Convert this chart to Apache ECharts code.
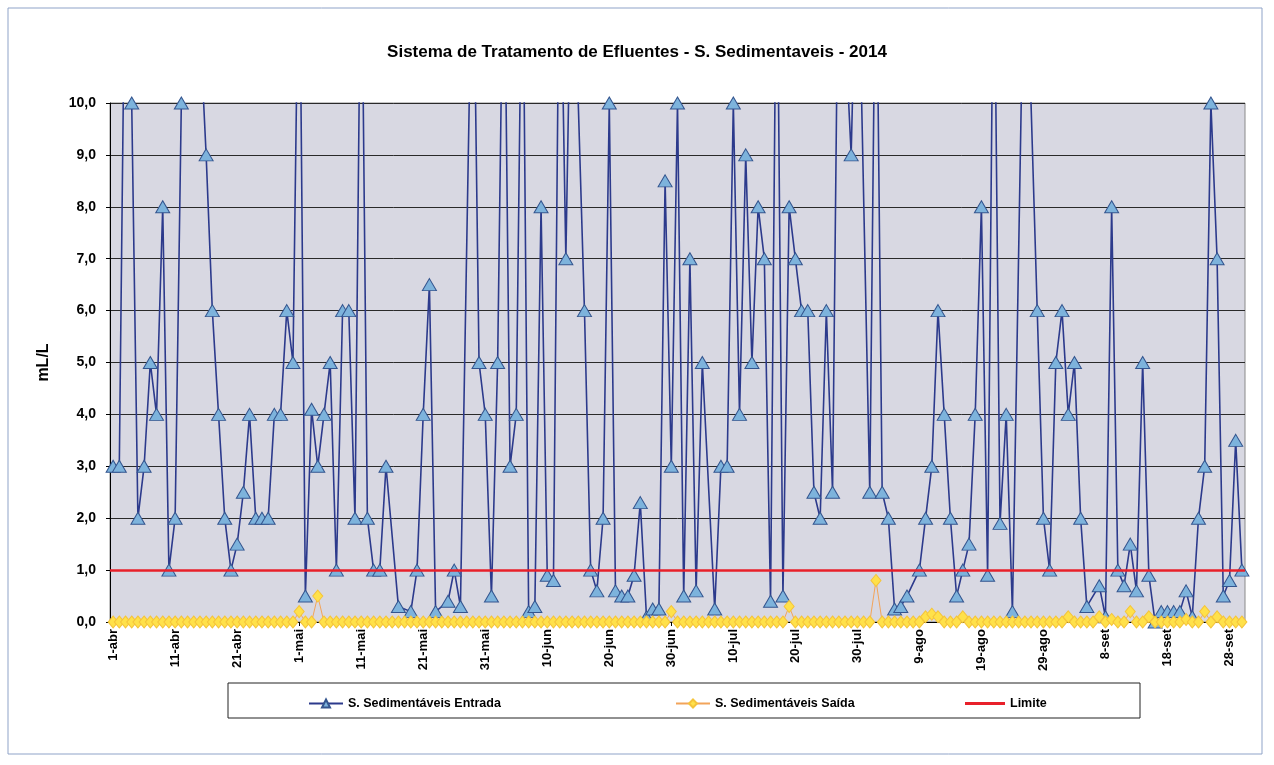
<!DOCTYPE html>
<html>
<head>
    <meta charset="utf-8" />
    <title>Sistema de Tratamento de Efluentes - S. Sedimentaveis - 2014</title>
    <script src="https://cdn.jsdelivr.net/npm/echarts@6/dist/echarts.min.js"></script>
    <style>
        html, body { margin: 0; padding: 0; background: #fff; }
        #chart { width: 1274px; height: 765px; }
    </style>
</head>
<body>
    <div id="chart"></div>
    <script type="text/javascript">
        // meses do periodo (abr - set 2014)
        var meses = ['abr', 'mai', 'jun', 'jul', 'ago', 'set'];
        var diasNoMes = [30, 31, 30, 31, 31, 30];

        // valores acima de 10 ficam fora da escala (14 = fora do grafico)
        var entrada = [
            3, 3, 14, 10, 2, 3, 5, 4, 8, 1,
            2, 10, null, 14, null, 9, 6, 4, 2, 1,
            1.5, 2.5, 4, 2, 2, 2, 4, 4, 6, 5,
            14, 0.5, 4.1, 3, 4, 5, 1, 6, 6, 2,
            14, 2, 1, 1, 3, null, 0.3, null, 0.2, 1,
            4, 6.5, 0.2, null, 0.4, 1, 0.3, null, 14, 5,
            4, 0.5, 5, 14, 3, 4, 14, 0.2, 0.3, 8,
            0.9, 0.8, 14, 7, 14, null, 6, 1, 0.6, 2,
            10, 0.6, 0.5, 0.5, 0.9, 2.3, 0.1, 0.25, 0.25, 8.5,
            3, 10, 0.5, 7, 0.6, 5, null, 0.25, 3, 3,
            10, 4, 9, 5, 8, 7, 0.4, 14, 0.5, 8,
            7, 6, 6, 2.5, 2, 6, 2.5, 14, null, 9,
            14, null, 2.5, 14, 2.5, 2, 0.25, 0.3, 0.5, null,
            1, 2, 3, 6, 4, 2, 0.5, 1, 1.5, 4,
            8, 0.9, 14, 1.9, 4, 0.2, null, 14, null, 6,
            2, 1, 5, 6, 4, 5, 2, 0.3, null, 0.7,
            0.1, 8, 1, 0.7, 1.5, 0.6, 5, 0.9, 0, 0.2,
            0.2, 0.2, 0.2, 0.6, 0.1, 2, 3, 10, 7, 0.5,
            0.8, 3.5, 1
        ];

        var saida = [
            0, 0, 0, 0, 0, 0, 0, 0, 0, 0,
            0, 0, 0, 0, 0, 0, 0, 0, 0, 0,
            0, 0, 0, 0, 0, 0, 0, 0, 0, 0,
            0.2, 0, 0, 0.5, 0, 0, 0, 0, 0, 0,
            0, 0, 0, 0, 0, 0, 0, 0, 0, 0,
            0, 0, 0, 0, 0, 0, 0, 0, 0, 0,
            0, 0, 0, 0, 0, 0, 0, 0, 0, 0,
            0, 0, 0, 0, 0, 0, 0, 0, 0, 0,
            0, 0, 0, 0, 0, 0, 0, 0, 0, 0,
            0.2, 0, 0, 0, 0, 0, 0, 0, 0, 0,
            0, 0, 0, 0, 0, 0, 0, 0, 0, 0.3,
            0, 0, 0, 0, 0, 0, 0, 0, 0, 0,
            0, 0, 0, 0.8, 0, 0, 0, 0, 0, 0,
            0, 0.1, 0.15, 0.1, 0, 0, 0, 0.1, 0, 0,
            0, 0, 0, 0, 0, 0, 0, 0, 0, 0,
            0, 0, 0, 0, 0.1, 0, 0, 0, 0, 0.1,
            0, 0.05, 0, 0, 0.2, 0, 0, 0.1, 0, 0,
            0, 0, 0, 0.05, 0, 0, 0.2, 0, 0.1, 0,
            0, 0, 0
        ];

        var limite = 1.0;
        var yTicks = [0, 1, 2, 3, 4, 5, 6, 7, 8, 9, 10];
        var nomes = ['S. Sedimentáveis Entrada', 'S. Sedimentáveis Saída', 'Limite'];

        var dias = [];
        for (var m = 0; m < meses.length; m++) {
            for (var d = 1; d <= diasNoMes[m]; d++) {
                dias.push(d + '-' + meses[m]);
            }
        }

        var fonte = 'Liberation Sans, Arial, sans-serif';
        var textoLegenda = { fontFamily: fonte, fontSize: 12.5, fontWeight: 'bold', color: '#000' };
        var chart = echarts.init(document.getElementById('chart'));

        chart.setOption({
            backgroundColor: '#ffffff',
            animation: false,
            title: {
                text: 'Sistema de Tratamento de Efluentes - S. Sedimentaveis - 2014',
                left: 'center',
                top: 39,
                textStyle: { fontFamily: fonte, fontSize: 17, fontWeight: 'bold', color: '#000' }
            },
            graphic: [{
                type: 'rect',
                shape: { x: 8, y: 8, width: 1254, height: 746 },
                style: { fill: 'none', stroke: '#8fa3c8', lineWidth: 1 },
                silent: true
            }, {
                type: 'rect',
                shape: { x: 228, y: 683, width: 912, height: 35 },
                style: { fill: '#fff', stroke: '#222', lineWidth: 1 },
                silent: true,
                z: -1
            }],
            legend: [
                { left: 303, top: 692, itemWidth: 34, itemHeight: 10, textStyle: textoLegenda, data: [nomes[0]] },
                { left: 670, top: 692, itemWidth: 34, itemHeight: 10, textStyle: textoLegenda, data: [nomes[1]] },
                { left: 960, top: 692, itemWidth: 40, itemHeight: 3, textStyle: textoLegenda, data: [{ name: nomes[2], icon: 'rect' }] }
            ],
            grid: {
                left: 110,
                right: 29,
                top: 103,
                bottom: 143,
                show: true,
                backgroundColor: '#d8d8e2',
                borderColor: '#8a8a8a',
                borderWidth: 1
            },
            xAxis: {
                type: 'category',
                data: dias,
                boundaryGap: true,
                axisLine: { lineStyle: { color: '#000' } },
                axisTick: { show: true, interval: 9, alignWithLabel: true, length: 4, lineStyle: { color: '#000' } },
                axisLabel: {
                    interval: 9,
                    rotate: 90,
                    margin: 7,
                    fontFamily: fonte,
                    fontSize: 13,
                    fontWeight: 'bold',
                    color: '#000'
                }
            },
            yAxis: {
                type: 'value',
                min: yTicks[0],
                max: yTicks[yTicks.length - 1],
                interval: 1,
                name: 'mL/L',
                nameLocation: 'middle',
                nameRotate: 90,
                nameGap: 58,
                nameTextStyle: { fontFamily: fonte, fontSize: 16, fontWeight: 'bold', color: '#000' },
                axisLine: { show: true, lineStyle: { color: '#000' } },
                axisTick: { show: true, length: 4, lineStyle: { color: '#000' } },
                axisLabel: {
                    margin: 14,
                    fontFamily: fonte,
                    fontSize: 14,
                    fontWeight: 'bold',
                    color: '#000',
                    formatter: function (v) { return v.toFixed(1).replace('.', ','); }
                },
                splitLine: { lineStyle: { color: '#2a2a2a', width: 1 } }
            },
            series: [
                {
                    name: nomes[0],
                    type: 'line',
                    data: entrada,
                    connectNulls: true,
                    clip: true,
                    showAllSymbol: true,
                    symbol: 'triangle',
                    symbolSize: [14, 12],
                    color: '#2c3a8c',
                    lineStyle: { color: '#2c3a8c', width: 1.6 },
                    itemStyle: { color: '#7db3dc', borderColor: '#34558f', borderWidth: 1 },
                    z: 2
                },
                {
                    name: nomes[1],
                    type: 'line',
                    data: saida,
                    clip: true,
                    showAllSymbol: true,
                    symbol: 'diamond',
                    symbolSize: [10, 12],
                    color: '#f2b36a',
                    lineStyle: { color: '#f2a45a', width: 1 },
                    itemStyle: { color: '#ffe14a', borderColor: '#f5c43a', borderWidth: 1 },
                    z: 3
                },
                {
                    name: nomes[2],
                    type: 'line',
                    data: [],
                    symbol: 'none',
                    color: '#e8202a',
                    lineStyle: { color: '#e8202a', width: 3 },
                    itemStyle: { color: '#e8202a' },
                    markLine: {
                        silent: true,
                        symbol: 'none',
                        label: { show: false },
                        lineStyle: { color: '#e8202a', width: 2.5, type: 'solid' },
                        data: [{ yAxis: limite }]
                    },
                    z: 1
                }
            ]
        });
    </script>
</body>
</html>
